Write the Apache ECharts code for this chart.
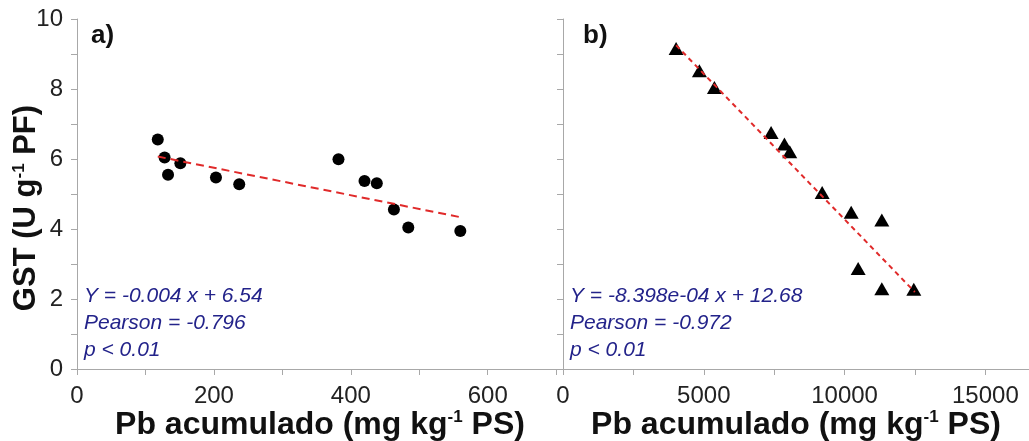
<!DOCTYPE html>
<html>
<head>
    <meta charset="utf-8">
    <title>GST vs Pb acumulado</title>
    <script src="https://cdn.jsdelivr.net/npm/echarts@6/dist/echarts.min.js"></script>
</head>
<style>
    html, body, #main {
        width: 100%;
        height: 100%;
        margin: 0;
        background: #fff;
    }
</style>
<body>
<div id='main'></div>
<script>
    // panel a) Pb (mg/kg) vs GST, circles
    var pbA = [118, 128, 133, 151, 203, 237, 382, 420, 438, 463, 484, 560];
    var gstA = [6.56, 6.04, 5.55, 5.88, 5.47, 5.28, 5.99, 5.37, 5.31, 4.56, 4.04, 3.94];
    var trendA = [[118, 6.07], [562, 4.33]];

    // panel b) triangles
    var pbB = [4017, 4844, 5377, 7391, 7864, 8053, 9204, 10235, 11323, 10483, 11323, 12459];
    var gstB = [9.16, 8.52, 8.04, 6.76, 6.43, 6.21, 5.04, 4.48, 4.26, 2.87, 2.29, 2.28];
    var trendB = [[4017, 9.25], [12495, 2.2]];

    var statsA = ['Y = -0.004 x + 6.54', 'Pearson = -0.796', 'p < 0.01'];
    var statsB = ['Y = -8.398e-04 x + 12.68', 'Pearson = -0.972', 'p < 0.01'];

    function pairs(xs, ys) {
        var out = [];
        for (var i = 0; i < xs.length; i++) out.push([xs[i], ys[i]]);
        return out;
    }

    var FONT = '"Liberation Sans", Arial, sans-serif';
    var axisGray = '#a8a8a8';
    var navy = '#23238a';
    var red = '#e02a2a';

    function xAxisOpt(idx, max, interval, labelStep) {
        return {
            type: 'value', gridIndex: idx, min: 0, max: max, interval: interval,
            splitLine: {show: false},
            axisLine: {lineStyle: {color: axisGray, width: 1}},
            axisTick: {lineStyle: {color: axisGray}, length: 6},
            axisLabel: {
                color: '#222', fontSize: 24, fontFamily: FONT, margin: 15,
                formatter: function (v) { return v % labelStep === 0 ? String(v) : ''; }
            },
            name: 'Pb acumulado (mg kg{sup|-1} PS)',
            nameLocation: 'middle', nameGap: 40, nameMoveOverlap: false,
            nameTextStyle: {
                color: '#111', fontSize: 32, fontWeight: 'bold', fontFamily: FONT,
                rich: {sup: {fontSize: 17, fontWeight: 'bold', fontFamily: FONT, color: '#111', verticalAlign: 'top', lineHeight: 16}}
            }
        };
    }

    function yAxisOpt(idx, labels) {
        var o = {
            type: 'value', gridIndex: idx, min: 0, max: 10, interval: 1,
            splitLine: {show: false},
            axisLine: {show: true, lineStyle: {color: axisGray, width: 1}},
            axisTick: {show: true, lineStyle: {color: axisGray}, length: 6},
            axisLabel: {
                show: labels, color: '#222', fontSize: 24, fontFamily: FONT, margin: 14,
                formatter: function (v) { return v % 2 === 0 ? String(v) : ''; }
            }
        };
        if (labels) {
            o.name = 'GST (U g{sup|-1} PF)';
            o.nameLocation = 'middle';
            o.nameGap = 35;
            o.nameMoveOverlap = false;
            o.nameTextStyle = {
                color: '#111', fontSize: 31, fontWeight: 'bold', fontFamily: FONT,
                padding: [0, 28, 0, 0],
                rich: {sup: {fontSize: 17, fontWeight: 'bold', fontFamily: FONT, color: '#111', verticalAlign: 'top', lineHeight: 16}}
            };
        }
        return o;
    }

    function statText(lines, left) {
        var els = [];
        for (var i = 0; i < lines.length; i++) {
            els.push({
                type: 'text', left: left, top: 286 + i * 27,
                style: {text: lines[i], fill: navy, font: 'italic 21px ' + FONT}
            });
        }
        return els;
    }

    var chart = echarts.init(document.getElementById('main'));
    var option = {
        animation: false,
        backgroundColor: '#fff',
        grid: [
            {left: 77, top: 19, width: 486, height: 350, outerBoundsMode: 'none', containLabel: false},
            {left: 563, top: 19, width: 466, height: 350, outerBoundsMode: 'none', containLabel: false}
        ],
        xAxis: [
            xAxisOpt(0, 710, 100, 200),
            xAxisOpt(1, 16550, 2500, 5000)
        ],
        yAxis: [
            yAxisOpt(0, true),
            yAxisOpt(1, false)
        ],
        graphic: [
            {type: 'text', left: 91, top: 23, style: {text: 'a)', fill: '#111', font: 'bold 26px ' + FONT}},
            {type: 'text', left: 583, top: 23, style: {text: 'b)', fill: '#111', font: 'bold 26px ' + FONT}}
        ].concat(statText(statsA, 84)).concat(statText(statsB, 570)),
        series: [
            {
                type: 'line', xAxisIndex: 0, yAxisIndex: 0, data: trendA,
                symbol: 'none', lineStyle: {color: red, width: 2, type: [8, 5]}, z: 3
            },
            {
                type: 'scatter', xAxisIndex: 0, yAxisIndex: 0, data: pairs(pbA, gstA),
                symbol: 'circle', symbolSize: 12, itemStyle: {color: '#000', opacity: 1}, z: 2
            },
            {
                type: 'line', xAxisIndex: 1, yAxisIndex: 1, data: trendB,
                symbol: 'none', lineStyle: {color: red, width: 2, type: [5, 4]}, z: 3
            },
            {
                type: 'scatter', xAxisIndex: 1, yAxisIndex: 1, data: pairs(pbB, gstB),
                symbol: 'triangle', symbolSize: [15, 13], itemStyle: {color: '#000', opacity: 1}, z: 2
            }
        ]
    };
    chart.setOption(option);

    window.onresize = chart.resize;
</script>
</body>
</html>
